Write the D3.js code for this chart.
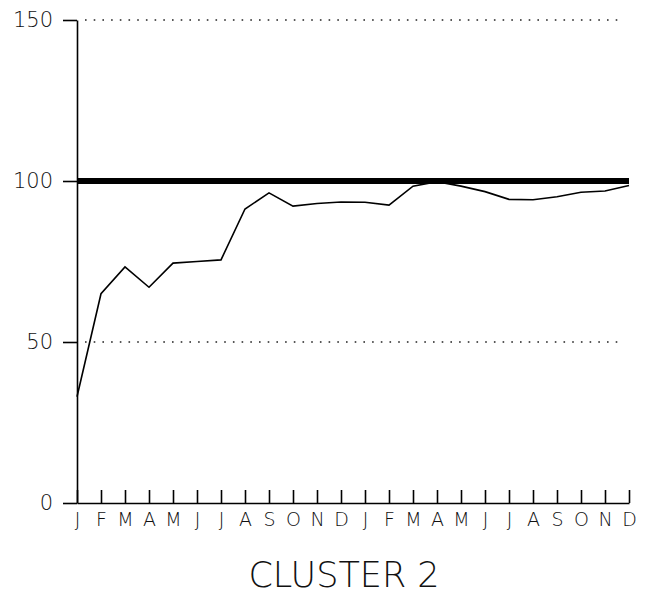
<!DOCTYPE html>
<html>
<head>
<meta charset="utf-8">
<script src="https://cdn.jsdelivr.net/npm/d3@7"></script>
<style>
  body { margin: 0; background: #fff; }
  text { font-family: "DejaVu Sans", "Liberation Sans", sans-serif; font-weight: 200; fill: #111; }
</style>
</head>
<body>
<div id="chart"></div>
<script>
// Month labels, two years
const months = ['J','F','M','A','M','J','J','A','S','O','N','D',
                'J','F','M','A','M','J','J','A','S','O','N','D'];

// Cluster 2 series
const values = [33, 65, 73.3, 67, 74.5, 75, 75.5, 91.3, 96.3, 92.2, 93, 93.5,
                93.4, 92.5, 98.4, 99.8, 98.4, 96.7, 94.3, 94.2, 95.1, 96.5, 96.9, 98.6];

const yTicks = [0, 50, 100, 150];
const gridLines = [50, 150];
const reference = 100;
const title = 'CLUSTER 2';

const width = 660, height = 594;

const svg = d3.select('#chart').append('svg')
    .attr('width', width)
    .attr('height', height);

const x = d3.scaleLinear().domain([0, months.length - 1]).range([77, 629]);
const y = d3.scaleLinear().domain([0, 150]).range([503, 20]);

// Dotted grid lines
svg.selectAll('.grid')
    .data(gridLines)
    .enter().append('line')
    .attr('x1', x(0) + 8)
    .attr('x2', x(months.length - 1) - 5)
    .attr('y1', d => y(d))
    .attr('y2', d => y(d))
    .attr('stroke', '#222')
    .attr('stroke-width', 1.6)
    .attr('stroke-dasharray', '1.6 7.1');

// Thick reference line at 100
svg.append('line')
    .attr('x1', x(0))
    .attr('x2', x(months.length - 1))
    .attr('y1', y(reference))
    .attr('y2', y(reference))
    .attr('stroke', '#000')
    .attr('stroke-width', 6);

// Y axis
const yAxis = svg.append('g')
    .attr('transform', `translate(${x(0)},0)`)
    .call(d3.axisLeft(y).tickValues(yTicks).tickSize(14).tickSizeOuter(0).tickPadding(10));
yAxis.selectAll('text').style('font-size', '21px').attr('fill', '#111');
yAxis.selectAll('line, path').attr('stroke', '#000').attr('stroke-width', 1.6);

// X axis, ticks pointing up
const xAxis = svg.append('g')
    .attr('transform', `translate(0,${y(0)})`)
    .call(d3.axisBottom(x)
        .tickValues(d3.range(months.length))
        .tickFormat(i => months[i])
        .tickSize(-13)
        .tickSizeOuter(0)
        .tickPadding(10));
xAxis.selectAll('text').style('font-size', '19px').attr('fill', '#111');
xAxis.selectAll('line, path').attr('stroke', '#000').attr('stroke-width', 1.6);

// Series line
const line = d3.line()
    .x((d, i) => x(i))
    .y(d => y(d));

svg.append('path')
    .datum(values)
    .attr('d', line)
    .attr('fill', 'none')
    .attr('stroke', '#000')
    .attr('stroke-width', 1.6)
    .attr('stroke-linejoin', 'miter');

// Title
svg.append('text')
    .attr('x', 344)
    .attr('y', 587)
    .attr('text-anchor', 'middle')
    .style('font-size', '35px')
    .text(title);
</script>
</body>
</html>
